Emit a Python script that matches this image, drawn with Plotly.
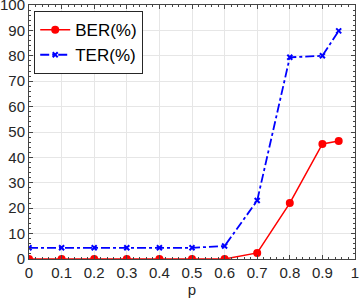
import plotly.graph_objects as go

p = [0, 0.1, 0.2, 0.3, 0.4, 0.5, 0.6, 0.7, 0.8, 0.9, 0.95]
ber = [0, 0, 0, 0, 0, 0, 0, 2.4, 22, 45.3, 46.5]
ter = [4.4, 4.4, 4.4, 4.4, 4.4, 4.4, 5.1, 23, 79.4, 80, 89.8]
x_ticks = [0, 0.1, 0.2, 0.3, 0.4, 0.5, 0.6, 0.7, 0.8, 0.9, 1]
x_labels = ["0", "0.1", "0.2", "0.3", "0.4", "0.5", "0.6", "0.7", "0.8", "0.9", "1"]

fig = go.Figure()
fig.add_trace(go.Scatter(x=p, y=ber, name="BER(%)", mode="lines+markers",
                         line=dict(color="#ff0000", width=1.5),
                         marker=dict(symbol="circle", size=8, color="#ff0000")))
fig.add_trace(go.Scatter(x=p, y=ter, name="TER(%)", mode="lines+markers",
                         line=dict(color="#0000ff", width=1.8, dash="dashdot"),
                         marker=dict(symbol="x-thin", size=5, color="#0000ff",
                                     line=dict(color="#0000ff", width=2))))

font = dict(family="Liberation Sans, Arial", size=15, color="#262626")
axis_common = dict(showline=True, linecolor="#444", linewidth=1, mirror="allticks",
                   ticks="inside", ticklen=4, tickcolor="#444",
                   showgrid=True, gridcolor="#e6e6e6", gridwidth=1, zeroline=False,
                   automargin=False, ticklabeloverflow="allow",
                   tickfont=font)

fig.update_xaxes(range=[0, 1], tickvals=x_ticks, ticktext=x_labels,
                 minor=dict(dtick=0.02, ticks="inside", ticklen=2, tickcolor="#444", showgrid=False),
                 title=dict(text="p", font=font, standoff=2),
                 **axis_common)
fig.update_yaxes(range=[0, 100], dtick=10,
                 minor=dict(dtick=2, ticks="inside", ticklen=2, tickcolor="#444", showgrid=False),
                 **axis_common)

fig.update_layout(width=361, height=303, margin=dict(l=29, r=6, t=5, b=44),
                  plot_bgcolor="white", paper_bgcolor="white",
                  showlegend=True,
                  legend=dict(x=0.016, y=0.976, xanchor="left", yanchor="top",
                              bordercolor="#262626", borderwidth=1, bgcolor="white",
                              font=dict(family="Liberation Sans, Arial", size=17, color="#000"),
                              tracegroupgap=0, itemwidth=30))

fig.write_html("out.html", config={"displayModeBar": False},
               post_script="document.body.style.margin='0';document.body.style.overflow='hidden';")
